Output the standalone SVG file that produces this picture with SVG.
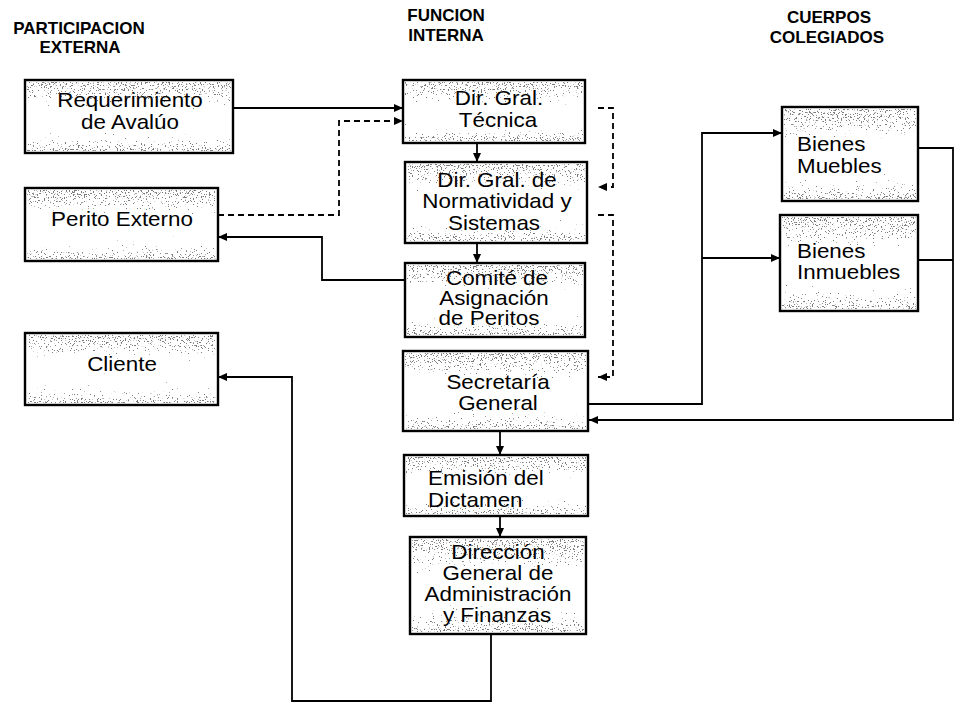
<svg xmlns="http://www.w3.org/2000/svg" width="956" height="703" viewBox="0 0 956 703">
<style>
.hd{font-family:"Liberation Sans",Arial,sans-serif;font-weight:bold;font-size:17px;fill:#000;text-anchor:middle}
.t{font-family:"Liberation Sans",Arial,sans-serif;font-size:20px;fill:#000;text-anchor:middle}
.tl{font-family:"Liberation Sans",Arial,sans-serif;font-size:20px;fill:#000;text-anchor:start}
.bg{fill:#fff;stroke:none}
.sp{fill:url(#band);stroke:none;filter:url(#speck)}
.bd{fill:none;stroke:#000;stroke-width:2.4}
.c{fill:none;stroke:#000;stroke-width:1.8}
.d{fill:none;stroke:#000;stroke-width:1.8;stroke-dasharray:6 4}
.a{marker-end:url(#ah)}
</style>
<defs>
<marker id="ah" markerUnits="userSpaceOnUse" markerWidth="9" markerHeight="8" refX="9" refY="4" orient="auto">
<path d="M0,0 L9,4 L0,8 z" fill="#000"/>
</marker>
<linearGradient id="band" x1="0" y1="0" x2="0" y2="1">
<stop offset="0" stop-color="#000" stop-opacity="1"/>
<stop offset="0.22" stop-color="#000" stop-opacity="0.8"/>
<stop offset="0.45" stop-color="#000" stop-opacity="0.25"/>
<stop offset="0.7" stop-color="#000" stop-opacity="0.4"/>
<stop offset="1" stop-color="#000" stop-opacity="1"/>
</linearGradient>
<filter id="speck" x="0" y="0" width="1" height="1" color-interpolation-filters="sRGB">
<feTurbulence type="fractalNoise" baseFrequency="0.75" numOctaves="2" seed="7" result="noise"/>
<feColorMatrix in="noise" type="matrix" values="0 0 0 0 0  0 0 0 0 0  0 0 0 0 0  1 0 0 0 0" result="na"/>
<feComposite in="na" in2="SourceAlpha" operator="arithmetic" k1="0" k2="20" k3="8.5" k4="-20" result="dots"/>
<feColorMatrix in="dots" type="matrix" values="0 0 0 0 0.15  0 0 0 0 0.15  0 0 0 0 0.15  0 0 0 0.6 0"/>
</filter>
</defs>

<g id="headers">
<text class="hd" x="79" y="34">PARTICIPACION</text>
<text class="hd" x="80" y="53">EXTERNA</text>
<text class="hd" x="446" y="21">FUNCION</text>
<text class="hd" x="446" y="41">INTERNA</text>
<text class="hd" x="829" y="23">CUERPOS</text>
<text class="hd" x="827" y="43">COLEGIADOS</text>
</g>

<g id="connectors">
<path class="c a" d="M233 108 H403"/>
<path class="d a" d="M218 215 H339 V121 H403"/>
<path class="c a" d="M477 143 V162"/>
<path class="d a" d="M598 108 H613 V187 H598"/>
<path class="c a" d="M477 243 V263"/>
<path class="d a" d="M598 215 H613 V377 H598"/>
<path class="c a" d="M405 280 H322 V237 H218"/>
<path class="c a" d="M588 404 H702 V133 H782"/>
<path class="c a" d="M702 258 H780"/>
<path class="c a" d="M918 148 H953 V420 H589"/>
<path class="c" d="M918 260 H953"/>
<path class="c a" d="M500 431 V455"/>
<path class="c a" d="M500 516 V537"/>
<path class="c a" d="M491 634 V701 H292 V377 H218"/>
</g>

<g id="n-requerimiento">
<rect class="bg" x="25" y="80" width="208" height="73"/>
<rect class="sp" x="27" y="82" width="204" height="69"/>
<rect class="bd" x="25" y="80" width="208" height="73"/>
<text class="t" transform="translate(130 107) scale(1.12 1)">Requerimiento</text>
<text class="t" transform="translate(130 129) scale(1.12 1)">de Avalúo</text>
</g>

<g id="n-perito">
<rect class="bg" x="25" y="188" width="193" height="73"/>
<rect class="sp" x="27" y="190" width="189" height="69"/>
<rect class="bd" x="25" y="188" width="193" height="73"/>
<text class="t" transform="translate(122 226) scale(1.12 1)">Perito Externo</text>
</g>

<g id="n-cliente">
<rect class="bg" x="25" y="333" width="193" height="72"/>
<rect class="sp" x="27" y="335" width="189" height="68"/>
<rect class="bd" x="25" y="333" width="193" height="72"/>
<text class="t" transform="translate(122 371) scale(1.12 1)">Cliente</text>
</g>

<g id="n-tecnica">
<rect class="bg" x="403" y="80" width="182" height="63"/>
<rect class="sp" x="405" y="82" width="178" height="59"/>
<rect class="bd" x="403" y="80" width="182" height="63"/>
<text class="t" transform="translate(499 105) scale(1.12 1)">Dir. Gral.</text>
<text class="t" transform="translate(498 127) scale(1.12 1)">Técnica</text>
</g>

<g id="n-normatividad">
<rect class="bg" x="405" y="162" width="182" height="81"/>
<rect class="sp" x="407" y="164" width="178" height="77"/>
<rect class="bd" x="405" y="162" width="182" height="81"/>
<text class="t" transform="translate(497 187) scale(1.12 1)">Dir. Gral. de</text>
<text class="t" transform="translate(497 208) scale(1.12 1)">Normatividad y</text>
<text class="t" transform="translate(494 230) scale(1.12 1)">Sistemas</text>
</g>

<g id="n-comite">
<rect class="bg" x="405" y="263" width="180" height="74"/>
<rect class="sp" x="407" y="265" width="176" height="70"/>
<rect class="bd" x="405" y="263" width="180" height="74"/>
<text class="t" transform="translate(497 285) scale(1.12 1)">Comité de</text>
<text class="t" transform="translate(494 305) scale(1.12 1)">Asignación</text>
<text class="t" transform="translate(489 325) scale(1.12 1)">de Peritos</text>
</g>

<g id="n-secretaria">
<rect class="bg" x="403" y="351" width="185" height="80"/>
<rect class="sp" x="405" y="353" width="181" height="76"/>
<rect class="bd" x="403" y="351" width="185" height="80"/>
<text class="t" transform="translate(498 389) scale(1.12 1)">Secretaría</text>
<text class="t" transform="translate(498 410) scale(1.12 1)">General</text>
</g>

<g id="n-emision">
<rect class="bg" x="404" y="455" width="184" height="61"/>
<rect class="sp" x="406" y="457" width="180" height="57"/>
<rect class="bd" x="404" y="455" width="184" height="61"/>
<text class="tl" transform="translate(428 485) scale(1.12 1)">Emisión del</text>
<text class="tl" transform="translate(428 507) scale(1.12 1)">Dictamen</text>
</g>

<g id="n-direccion">
<rect class="bg" x="410" y="537" width="176" height="97"/>
<rect class="sp" x="412" y="539" width="172" height="93"/>
<rect class="bd" x="410" y="537" width="176" height="97"/>
<text class="t" transform="translate(498 559) scale(1.12 1)">Dirección</text>
<text class="t" transform="translate(498 580) scale(1.12 1)">General de</text>
<text class="t" transform="translate(498 601) scale(1.12 1)">Administración</text>
<text class="t" transform="translate(497 622) scale(1.12 1)">y Finanzas</text>
</g>

<g id="n-muebles">
<rect class="bg" x="782" y="107" width="136" height="94"/>
<rect class="sp" x="784" y="109" width="132" height="90"/>
<rect class="bd" x="782" y="107" width="136" height="94"/>
<text class="tl" transform="translate(797 151) scale(1.12 1)">Bienes</text>
<text class="tl" transform="translate(797 173) scale(1.12 1)">Muebles</text>
</g>

<g id="n-inmuebles">
<rect class="bg" x="780" y="215" width="138" height="96"/>
<rect class="sp" x="782" y="217" width="134" height="92"/>
<rect class="bd" x="780" y="215" width="138" height="96"/>
<text class="tl" transform="translate(797 258) scale(1.12 1)">Bienes</text>
<text class="tl" transform="translate(797 279) scale(1.12 1)">Inmuebles</text>
</g>
</svg>
